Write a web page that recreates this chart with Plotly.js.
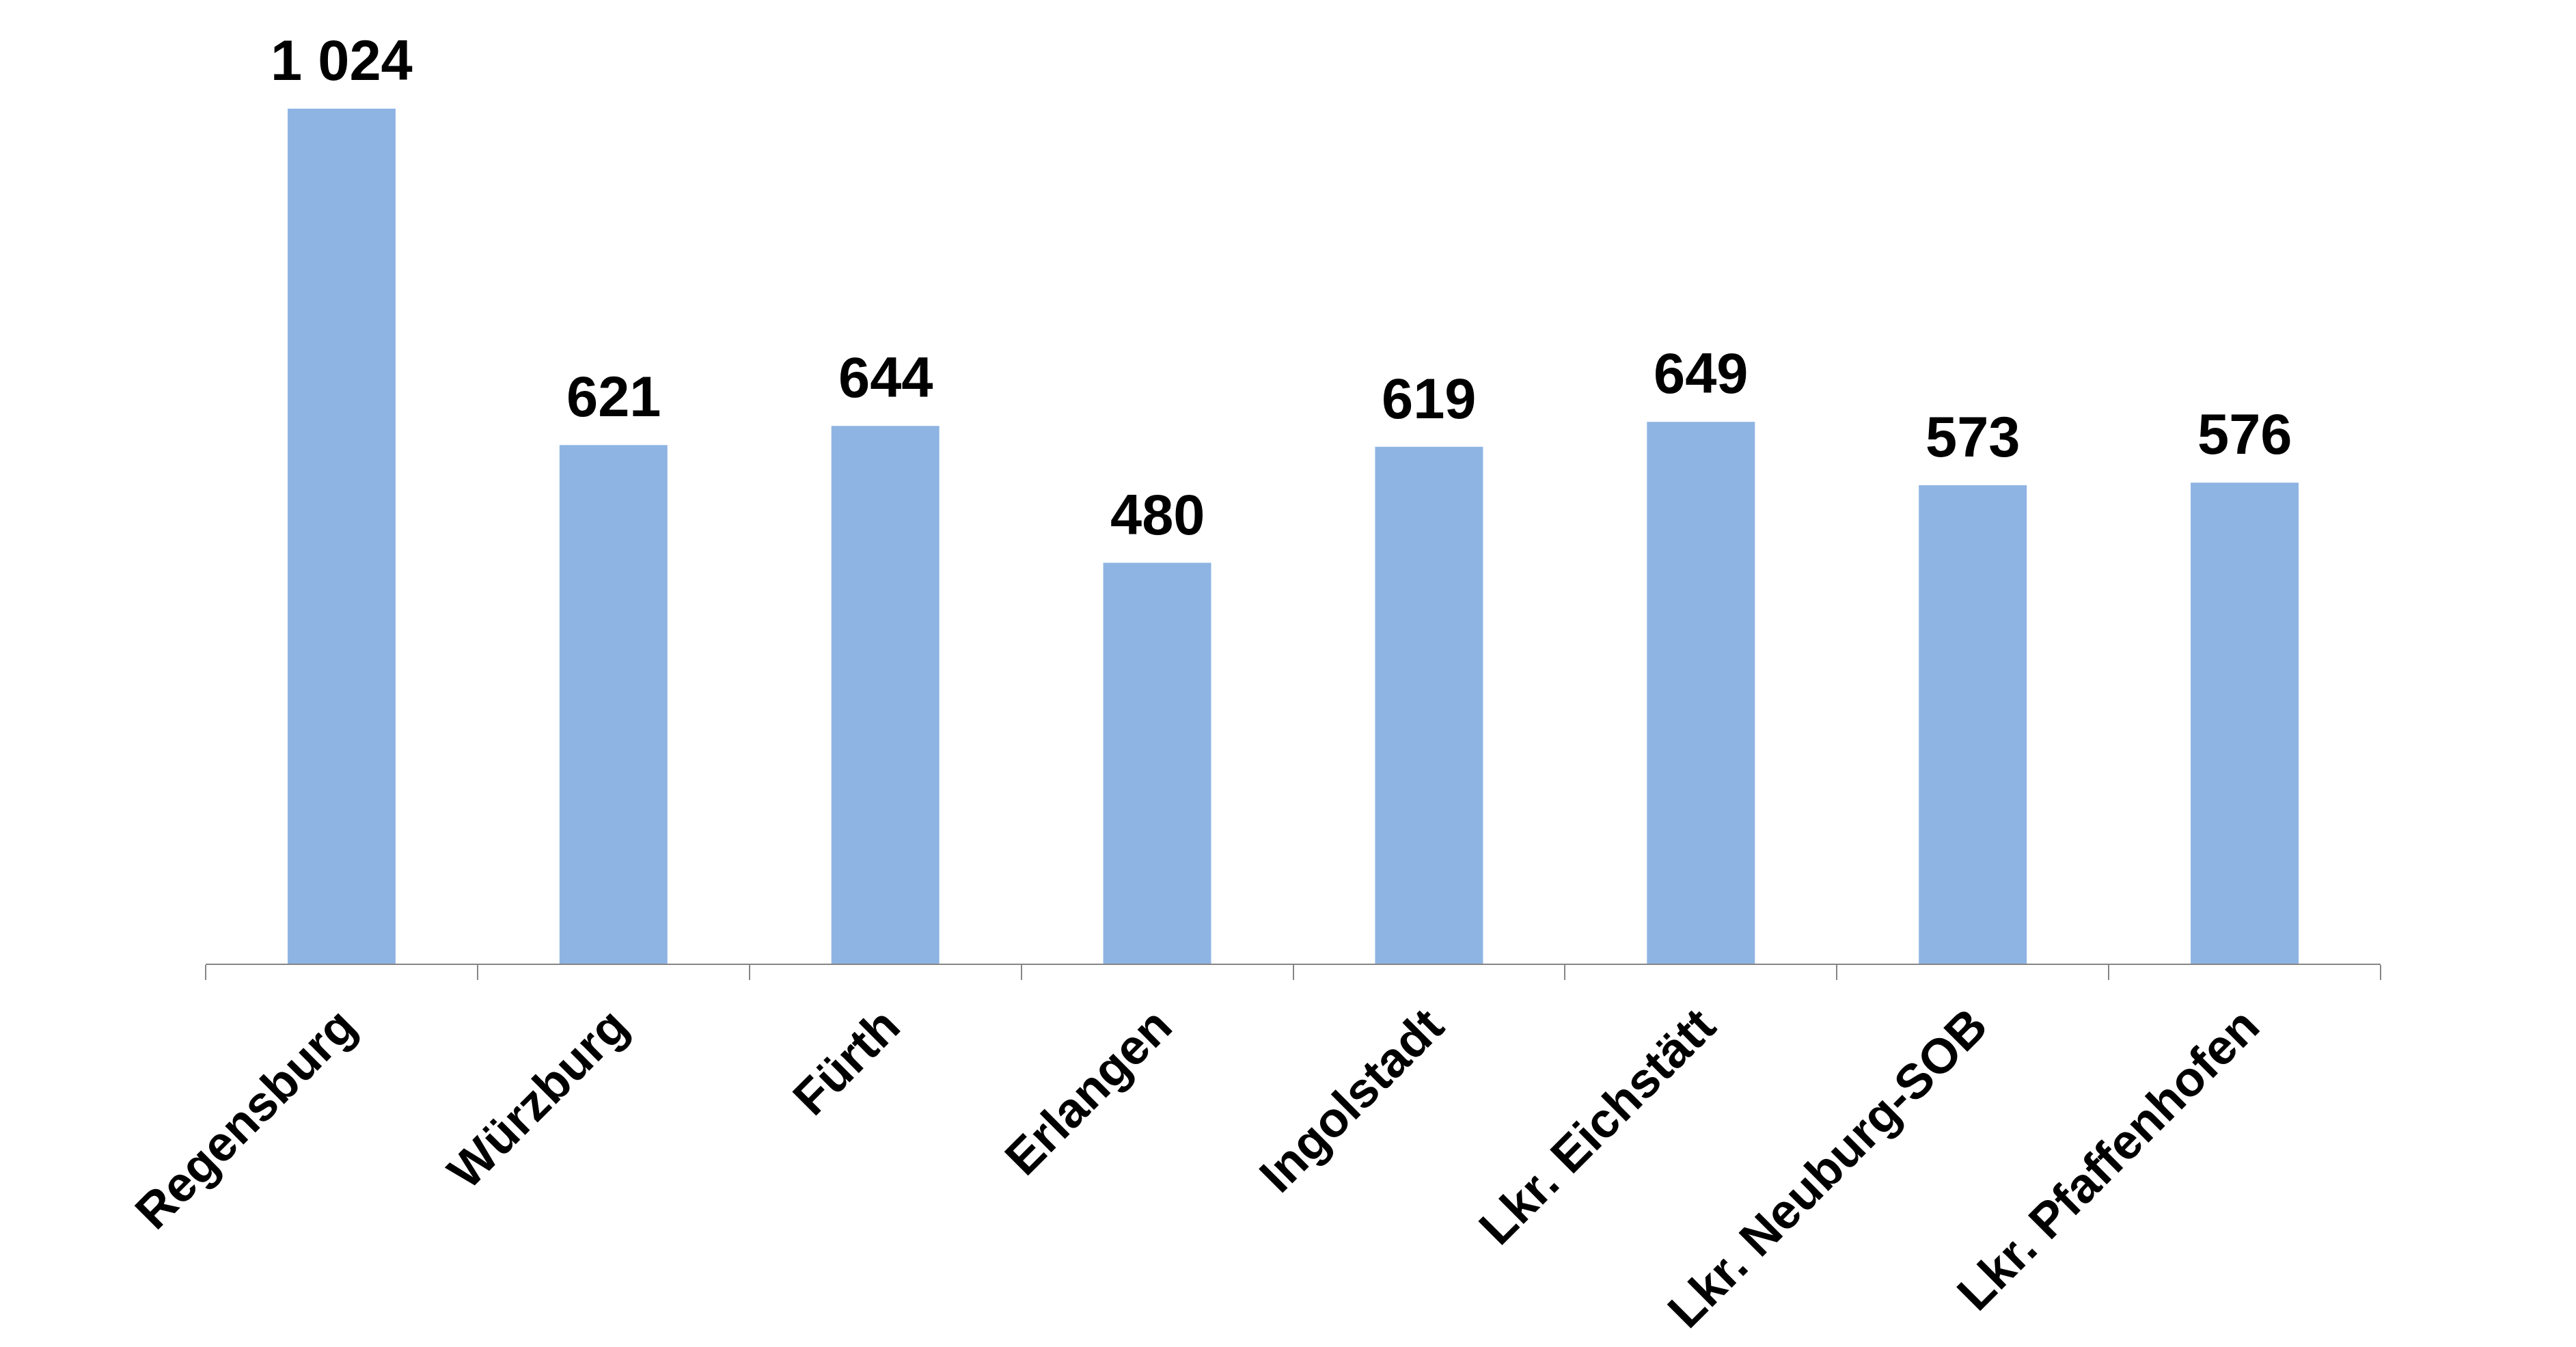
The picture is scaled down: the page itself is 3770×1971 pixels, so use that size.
<!DOCTYPE html>
<html>
<head>
<meta charset="utf-8">
<script src="https://cdn.plot.ly/plotly-3.0.1.min.js"></script>
<style>html,body{margin:0;padding:0;background:#fff;}#chart{width:3770px;height:1971px;}</style>
</head>
<body>
<div id="chart"></div>
<script>
const categories = ["Regensburg", "Würzburg", "Fürth", "Erlangen", "Ingolstadt", "Lkr. Eichstätt", "Lkr. Neuburg-SOB", "Lkr. Pfaffenhofen"];
const values = [1024, 621, 644, 480, 619, 649, 573, 576];
const valueLabels = ["1 024", "621", "644", "480", "619", "649", "573", "576"];

const font = "Liberation Sans, Arial, sans-serif";

const trace = {
  type: "bar",
  x: categories,
  y: values,
  marker: {color: "#8EB4E3", line: {width: 0}},
  hoverinfo: "none"
};

const annotations = categories.map((c, i) => ({
  x: c,
  y: values[i],
  xref: "x",
  yref: "y",
  text: "<b>" + valueLabels[i] + "</b>",
  showarrow: false,
  yanchor: "bottom",
  xanchor: "center",
  yshift: 22,
  font: {family: font, size: 83, color: "#000000"}
}));

const layout = {
  width: 3770,
  height: 1971,
  margin: {l: 301, r: 286, t: 100, b: 561},
  paper_bgcolor: "#ffffff",
  plot_bgcolor: "#ffffff",
  showlegend: false,
  bargap: 0.603,
  xaxis: {
    type: "category",
    showline: true,
    linecolor: "#868686",
    linewidth: 2,
    ticks: "outside",
    tickson: "boundaries",
    ticklen: 22,
    tickwidth: 2,
    tickcolor: "#868686",
    tickangle: -45,
    ticklabelstandoff: 18,
    tickfont: {family: font, size: 72, color: "#000000", weight: "bold"},
    showgrid: false,
    zeroline: false
  },
  yaxis: {
    visible: false,
    range: [0, 1072.3],
    showgrid: false,
    zeroline: false
  },
  annotations: annotations
};

Plotly.newPlot("chart", [trace], layout, {staticPlot: true, displayModeBar: false});
</script>
</body>
</html>
